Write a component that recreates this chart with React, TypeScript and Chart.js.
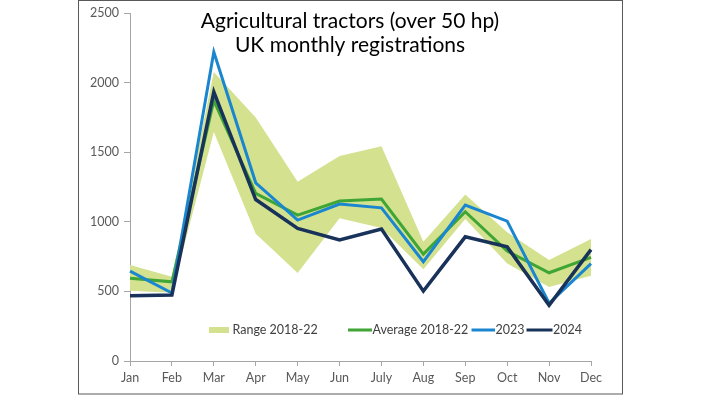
import React, { useEffect, useRef } from "react";
import { Chart, registerables } from "chart.js";

Chart.register(...registerables);

const months = ["Jan", "Feb", "Mar", "Apr", "May", "Jun", "July", "Aug", "Sep", "Oct", "Nov", "Dec"];
const rangeLow = [505, 490, 1646, 915, 632, 1026, 955, 660, 1020, 700, 531, 612];
const rangeHigh = [689, 605, 2077, 1750, 1287, 1472, 1543, 857, 1197, 925, 725, 876];
const avg = [594, 569, 1870, 1204, 1048, 1149, 1163, 768, 1072, 790, 634, 745];
const y2023 = [646, 488, 2220, 1280, 1012, 1127, 1100, 713, 1120, 1005, 415, 700];
const y2024 = [469, 474, 1933, 1160, 952, 869, 948, 502, 892, 820, 400, 800];
const yTicks = [0, 500, 1000, 1500, 2000, 2500];
const titleLines = ["Agricultural tractors (over 50 hp)", "UK monthly registrations"];

const RANGE_COLOR = "#d4e290";
const AVG_COLOR = "#3fa535";
const C2023 = "#1a86d0";
const C2024 = "#18325a";
const FONT = "Lato";

const overlay = {
  id: "overlay",
  afterDraw(chart: any) {
    const ctx = chart.ctx;
    ctx.save();
    // frame
    ctx.strokeStyle = "#595959";
    ctx.lineWidth = 1;
    ctx.strokeRect(78.5, 0.5, 544, 393.5);
    // title
    ctx.fillStyle = "#000000";
    ctx.font = `21px ${FONT}`;
    ctx.textAlign = "center";
    ctx.textBaseline = "middle";
    ctx.fillText(titleLines[0], 350, 21);
    ctx.fillText(titleLines[1], 350, 45);
    // legend
    const ly = 330;
    ctx.font = `12.5px ${FONT}`;
    ctx.textAlign = "left";
    ctx.fillStyle = RANGE_COLOR;
    ctx.fillRect(209, ly - 3, 20, 6);
    const items: any[] = [
      { text: "Range 2018-22", x: 232.5 },
      { text: "Average 2018-22", x: 372.5, line: [348, 372], color: AVG_COLOR },
      { text: "2023", x: 495.5, line: [471.5, 495], color: C2023 },
      { text: "2024", x: 553, line: [526.5, 552.5], color: C2024 },
    ];
    for (const it of items) {
      if (it.line) {
        ctx.strokeStyle = it.color;
        ctx.lineWidth = 3;
        ctx.beginPath();
        ctx.moveTo(it.line[0], ly);
        ctx.lineTo(it.line[1], ly);
        ctx.stroke();
      }
      ctx.fillStyle = "#404040";
      ctx.fillText(it.text, it.x, ly);
    }
    ctx.restore();
  },
};

export default function App() {
  const ref = useRef<HTMLCanvasElement>(null);
  useEffect(() => {
    const chart = new Chart(ref.current as HTMLCanvasElement, {
      type: "line",
      data: {
        labels: months,
        datasets: [
          { label: "low", data: rangeLow, order: 6, borderWidth: 0, pointRadius: 0, fill: false, borderColor: "rgba(0,0,0,0)" },
          { label: "Range 2018-22", data: rangeHigh, order: 5, borderWidth: 0, pointRadius: 0, fill: "-1", backgroundColor: RANGE_COLOR, borderColor: "rgba(0,0,0,0)" },
          { label: "Average 2018-22", data: avg, order: 3, borderColor: AVG_COLOR, borderWidth: 3, pointRadius: 0, fill: false },
          { label: "2023", data: y2023, order: 2, borderColor: C2023, borderWidth: 3, pointRadius: 0, fill: false },
          { label: "2024", data: y2024, order: 1, borderColor: C2024, borderWidth: 3.5, pointRadius: 0, fill: false },
        ],
      },
      options: {
        animation: false,
        responsive: false,
        layout: { padding: { left: 78, top: 13, right: 111, bottom: 0 } },
        plugins: {
          legend: { display: false },
          title: { display: false },
          tooltip: { enabled: false },
          filler: { drawTime: "beforeDatasetsDraw" },
        } as any,
        elements: { line: { tension: 0, borderJoinStyle: "miter" } },
        scales: {
          x: {
            offset: false,
            grid: { drawOnChartArea: false, drawTicks: true, tickLength: 5, color: "#a6a6a6" },
            border: { display: true, color: "#a6a6a6", width: 1 },
            ticks: { color: "#595959", font: { family: FONT, size: 12.5 }, padding: 4, maxRotation: 0, autoSkip: false },
            afterFit: (s: any) => { s.height = 34; },
          },
          y: {
            min: 0,
            max: 2500,
            afterBuildTicks: (s: any) => { s.ticks = yTicks.map((v) => ({ value: v })); },
            grid: { drawOnChartArea: false, drawTicks: true, tickLength: 6, color: "#a6a6a6" },
            border: { display: true, color: "#a6a6a6", width: 1 },
            ticks: { color: "#595959", font: { family: FONT, size: 12.5 }, padding: 5, callback: (v: any) => String(v) },
            afterFit: (s: any) => { s.width = 52; },
          },
        },
      },
      plugins: [overlay],
    });
    return () => chart.destroy();
  }, []);
  return (
    <div style={{ position: "fixed", left: 0, top: 0, width: 702, height: 395, background: "#fff" }}>
      <canvas ref={ref} width={702} height={395} style={{ width: 702, height: 395, display: "block" }} />
    </div>
  );
}
